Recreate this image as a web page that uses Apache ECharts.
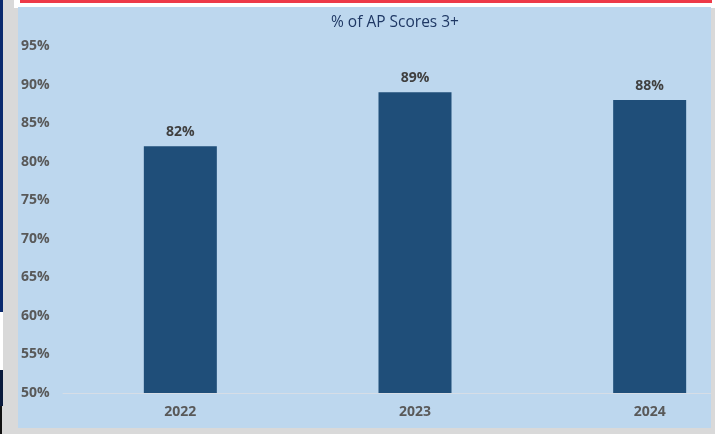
<!DOCTYPE html>
<html>
<head>
<meta charset="utf-8">
<script src="https://cdn.jsdelivr.net/npm/echarts@6/dist/echarts.min.js"></script>
<style>
  html, body { margin: 0; padding: 0; width: 715px; height: 434px; overflow: hidden; background: #d9d9d9; position: relative; }
  .blk { position: absolute; }
  #frame { position: absolute; left: 18px; top: 7px; width: 693px; height: 421px; background: #bdd7ee; overflow: hidden; }
  #chart { width: 749px; height: 421px; }
</style>
</head>
<body>
<div class="blk" style="left:14px;top:0;width:701px;height:8px;background:#ffffff"></div>
<div class="blk" style="left:20px;top:0;width:692px;height:3px;background:#ee3a48"></div>
<div class="blk" style="left:0;top:0;width:3px;height:312px;background:#0b2a6e"></div>
<div class="blk" style="left:0;top:312px;width:3px;height:58px;background:#ffffff"></div>
<div class="blk" style="left:0;top:370px;width:3px;height:36px;background:#0a1a3c"></div>
<div class="blk" style="left:0;top:406px;width:2px;height:28px;background:#111111"></div>
<div id="frame"><div id="chart"></div></div>
<script>
  // values
  const years = ['2022', '2023', '2024'];
  const pctScores3Plus = [82, 89, 88];
  const yMin = 50, yMax = 95, yStep = 5;

  const chart = echarts.init(document.getElementById('chart'));
  const font = '"Open Sans", Lato, sans-serif';

  chart.setOption({
    animation: false,
    title: {
      text: '% of AP Scores 3+',
      left: 308,
      top: 3,
      textStyle: { fontFamily: font, fontSize: 15.5, fontWeight: 'normal', color: '#1f3864' }
    },
    grid: { left: 45, right: 0, top: 39, bottom: 35 },
    xAxis: {
      type: 'category',
      data: years,
      axisLine: { show: true, lineStyle: { color: '#d6dde6', width: 1 } },
      axisTick: { show: false },
      axisLabel: { margin: 12, fontFamily: font, fontSize: 14, fontWeight: 'bold', color: '#595959' }
    },
    yAxis: {
      type: 'value',
      min: yMin,
      max: yMax,
      interval: yStep,
      axisLine: { show: false },
      axisTick: { show: false },
      splitLine: { show: false },
      axisLabel: {
        align: 'left',
        margin: 42,
        fontFamily: font,
        fontSize: 14,
        fontWeight: 'bold',
        color: '#595959',
        formatter: v => v + '%'
      }
    },
    series: [{
      type: 'bar',
      data: pctScores3Plus,
      barWidth: 73,
      itemStyle: { color: '#1f4e79' },
      label: {
        show: true,
        position: 'top',
        distance: 7,
        fontFamily: font,
        fontSize: 14,
        fontWeight: 'bold',
        color: '#404040',
        formatter: p => p.value + '%'
      }
    }]
  });
</script>
</body>
</html>
